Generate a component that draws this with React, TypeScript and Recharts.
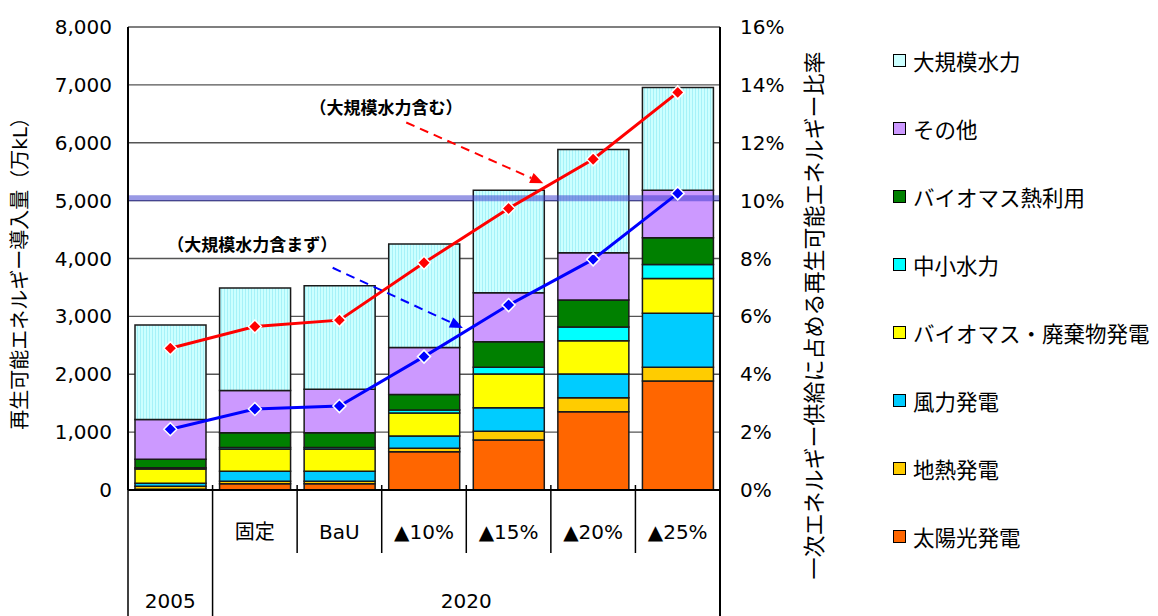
import {
  Bar,
  CartesianGrid,
  ComposedChart,
  Line,
  ReferenceDot,
  ReferenceLine,
  XAxis,
  YAxis,
} from 'recharts'

const CATEGORIES = ['2005', '固定', 'BaU', '▲10%', '▲15%', '▲20%', '▲25%']
const SUB_LABELS = ['', '固定', 'BaU', '▲10%', '▲15%', '▲20%', '▲25%']
const YEAR_GROUPS = [
  { label: '2005', from: 0, to: 0 },
  { label: '2020', from: 1, to: 6 },
]

// 万kL
const SOLAR = [15, 110, 110, 660, 863, 1353, 1883]
const GEOTHERMAL = [50, 40, 40, 60, 150, 241, 236]
const WIND = [50, 175, 175, 213, 409, 409, 933]
const BIOMASS_POWER = [250, 380, 380, 397, 581, 576, 604]
const SMALL_HYDRO = [20, 30, 30, 52, 116, 236, 242]
const BIOMASS_HEAT = [145, 255, 255, 270, 443, 467, 460]
const OTHER = [690, 730, 750, 812, 846, 817, 823]
const LARGE_HYDRO = [1630, 1770, 1790, 1785, 1773, 1785, 1774]

// %
const SHARE_WITH_LARGE_HYDRO = [4.9, 5.65, 5.87, 7.85, 9.73, 11.43, 13.74]
const SHARE_WITHOUT_LARGE_HYDRO = [2.1, 2.8, 2.9, 4.61, 6.39, 7.97, 10.25]

const TARGET_LEVEL = 5040
const LEFT_TICKS = [0, 1000, 2000, 3000, 4000, 5000, 6000, 7000, 8000]
const RIGHT_TICKS = [0, 2, 4, 6, 8, 10, 12, 14, 16]

const SERIES = [
  { key: 'solar', name: '太陽光発電', color: '#ff6600', values: SOLAR },
  { key: 'geo', name: '地熱発電', color: '#ffcc00', values: GEOTHERMAL },
  { key: 'wind', name: '風力発電', color: '#00ccff', values: WIND },
  { key: 'bioPower', name: 'バイオマス・廃棄物発電', color: '#ffff00', values: BIOMASS_POWER },
  { key: 'smallHydro', name: '中小水力', color: '#00ffff', values: SMALL_HYDRO },
  { key: 'bioHeat', name: 'バイオマス熱利用', color: '#008000', values: BIOMASS_HEAT },
  { key: 'other', name: 'その他', color: '#cc99ff', values: OTHER },
  { key: 'largeHydro', name: '大規模水力', color: 'url(#hydroStripes)', values: LARGE_HYDRO },
]

// slot = category centre on a 0..7 numeric scale, used to place the annotations
const data = CATEGORIES.map((name, i) => {
  const row: Record<string, string | number> = {
    name,
    slot: i + 0.5,
    withLarge: SHARE_WITH_LARGE_HYDRO[i],
    withoutLarge: SHARE_WITHOUT_LARGE_HYDRO[i],
  }
  SERIES.forEach((s) => {
    row[s.key] = s.values[i]
  })
  return row
})

const FONT = "'DejaVu Sans', 'Noto Sans CJK JP', sans-serif"
const JP_FONT = "'Noto Sans CJK JP', sans-serif"

const W = 1150
const H = 608
const MARGIN = { top: 19, right: 338, bottom: 0, left: 0 }
const LEFT_AXIS_W = 120
const RIGHT_AXIS_W = 100
const PLOT_W = W - MARGIN.left - MARGIN.right - LEFT_AXIS_W - RIGHT_AXIS_W
const BAND = PLOT_W / CATEGORIES.length

function CategoryTick(props: any) {
  const { x, y, index } = props
  const left = x - BAND / 2
  const right = x + BAND / 2
  const group = YEAR_GROUPS.find((g) => g.from === index)
  return (
    <g>
      <line
        x1={left}
        x2={left}
        y1={y - 5}
        y2={group ? y + 126 : y + 63}
        stroke="#000"
        strokeWidth={1.5}
      />
      {index === CATEGORIES.length - 1 && (
        <line x1={right} x2={right} y1={y - 5} y2={y + 126} stroke="#000" strokeWidth={2} />
      )}
      {SUB_LABELS[index] && (
        <text
          x={x}
          y={y + 42}
          textAnchor="middle"
          dominantBaseline="central"
          fontSize={20}
          fontFamily={FONT}
          fill="#000"
        >
          {SUB_LABELS[index]}
        </text>
      )}
      {group && (
        <text
          x={x + ((group.to - group.from) * BAND) / 2}
          y={y + 111}
          textAnchor="middle"
          dominantBaseline="central"
          fontSize={20}
          fontFamily={FONT}
          fill="#000"
        >
          {group.label}
        </text>
      )}
    </g>
  )
}

const diamond = (color: string) => (props: any) => {
  const { cx, cy, index } = props
  const r = 6.5
  return (
    <polygon
      key={index}
      points={`${cx},${cy - r} ${cx + r},${cy} ${cx},${cy + r} ${cx - r},${cy}`}
      fill={color}
      stroke="#fff"
      strokeWidth={1.5}
    />
  )
}

const dashedArrow = (color: string) => (props: any) => {
  const { x1, y1, x2, y2 } = props
  const ang = Math.atan2(y2 - y1, x2 - x1)
  const len = 13
  const half = 5.5
  const bx = x2 - len * Math.cos(ang)
  const by = y2 - len * Math.sin(ang)
  const px = -Math.sin(ang) * half
  const py = Math.cos(ang) * half
  return (
    <g>
      <line x1={x1} y1={y1} x2={bx} y2={by} stroke={color} strokeWidth={2} strokeDasharray="9 6" />
      <polygon points={`${x2},${y2} ${bx + px},${by + py} ${bx - px},${by - py}`} fill={color} />
    </g>
  )
}

const axisTitle =
  (text: string, side: 'left' | 'right', shiftY: number, size: number) => (props: any) => {
    const { x, y, width, height } = props.viewBox
    const cx = side === 'left' ? x + 12 : x + width - 6
    const cy = y + height / 2 + shiftY
    return (
      <text
        x={cx}
        y={cy}
        transform={`rotate(-90 ${cx} ${cy})`}
        textAnchor="middle"
        dominantBaseline="central"
        fontSize={size}
        fontFamily={FONT}
        fill="#000"
      >
        {text}
      </text>
    )
  }

function LegendBox() {
  const items = [...SERIES].reverse()
  return (
    <div style={{ position: 'absolute', left: 885, top: 18, fontFamily: JP_FONT }}>
      {items.map((s) => (
        <div key={s.key} style={{ height: 68, display: 'flex', alignItems: 'center' }}>
          <span
            style={{
              width: 11,
              height: 11,
              border: '1.5px solid #000',
              background: s.key === 'largeHydro' ? '#ccffff' : s.color,
              marginRight: 7,
              display: 'inline-block',
            }}
          />
          <span style={{ fontSize: 21.5, color: '#000', whiteSpace: 'nowrap' }}>{s.name}</span>
        </div>
      ))}
    </div>
  )
}

export default function App() {
  return (
    <div style={{ position: 'relative', width: W, height: H }}>
      <ComposedChart width={W} height={H} data={data} margin={MARGIN} barSize={71}>
        <defs>
          <pattern id="hydroStripes" width="3" height="4" patternUnits="userSpaceOnUse">
            <rect width="3" height="4" fill="#ccffff" />
            <rect width="1" height="4" fill="#a6f2f8" />
          </pattern>
        </defs>
        <CartesianGrid yAxisId="left" vertical={false} stroke="#555" strokeWidth={1.3} />
        <XAxis
          dataKey="name"
          height={126}
          interval={0}
          tickSize={0}
          tickMargin={0}
          tickLine={false}
          axisLine={{ stroke: '#000', strokeWidth: 2 }}
          tick={<CategoryTick />}
        />
        <XAxis
          xAxisId="num"
          dataKey="slot"
          type="number"
          domain={[0, 7]}
          allowDataOverflow
          hide
        />
        <YAxis
          yAxisId="left"
          width={LEFT_AXIS_W}
          domain={[0, 8000]}
          ticks={LEFT_TICKS}
          tickFormatter={(v: number) => v.toLocaleString('en-US')}
          tickLine={false}
          tickMargin={10}
          axisLine={{ stroke: '#000', strokeWidth: 2 }}
          tick={{ fill: '#000', fontSize: 20, fontFamily: FONT }}
          label={{
            value: '',
            content: axisTitle('再生可能エネルギー導入量（万kL）', 'left', 10, 20),
          }}
        />
        <YAxis
          yAxisId="right"
          orientation="right"
          width={RIGHT_AXIS_W}
          domain={[0, 16]}
          ticks={RIGHT_TICKS}
          tickFormatter={(v: number) => `${v}%`}
          tickLine={false}
          tickMargin={14}
          axisLine={{ stroke: '#000', strokeWidth: 2 }}
          tick={{ fill: '#000', fontSize: 20, fontFamily: FONT, textAnchor: 'start' }}
          label={{
            value: '',
            content: axisTitle('一次エネルギー供給に占める再生可能エネルギー比率', 'right', 57, 22),
          }}
        />
        {SERIES.map((s) => (
          <Bar
            key={s.key}
            dataKey={s.key}
            name={s.name}
            stackId="re"
            yAxisId="left"
            fill={s.color}
            stroke="#1a1a1a"
            strokeWidth={1.5}
            isAnimationActive={false}
          />
        ))}
        <ReferenceLine
          yAxisId="left"
          y={TARGET_LEVEL}
          stroke="#3333cc"
          strokeOpacity={0.5}
          strokeWidth={6}
        />
        <Line
          yAxisId="right"
          dataKey="withLarge"
          stroke="#ff0000"
          strokeWidth={3}
          dot={diamond('#ff0000')}
          activeDot={false}
          isAnimationActive={false}
        />
        <Line
          yAxisId="right"
          dataKey="withoutLarge"
          stroke="#0000ff"
          strokeWidth={3}
          dot={diamond('#0000ff')}
          activeDot={false}
          isAnimationActive={false}
        />
        <ReferenceLine
          xAxisId="num"
          yAxisId="left"
          segment={[
            { x: 3.29, y: 6350 },
            { x: 4.91, y: 5300 },
          ]}
          shape={dashedArrow('#ff0000')}
        />
        <ReferenceLine
          xAxisId="num"
          yAxisId="left"
          segment={[
            { x: 2.42, y: 3840 },
            { x: 3.96, y: 2800 },
          ]}
          shape={dashedArrow('#0000ff')}
        />
        <ReferenceDot
          xAxisId="num"
          yAxisId="left"
          x={3.05}
          y={6600}
          r={1}
          fill="none"
          stroke="none"
          label={{
            value: '（大規模水力含む）',
            position: 'center',
            fontSize: 17,
            fontWeight: 'bold',
            fontFamily: JP_FONT,
            fill: '#000',
          }}
        />
        <ReferenceDot
          xAxisId="num"
          yAxisId="left"
          x={1.47}
          y={4230}
          r={1}
          fill="none"
          stroke="none"
          label={{
            value: '（大規模水力含まず）',
            position: 'center',
            fontSize: 17,
            fontWeight: 'bold',
            fontFamily: JP_FONT,
            fill: '#000',
          }}
        />
      </ComposedChart>
      <LegendBox />
    </div>
  )
}
